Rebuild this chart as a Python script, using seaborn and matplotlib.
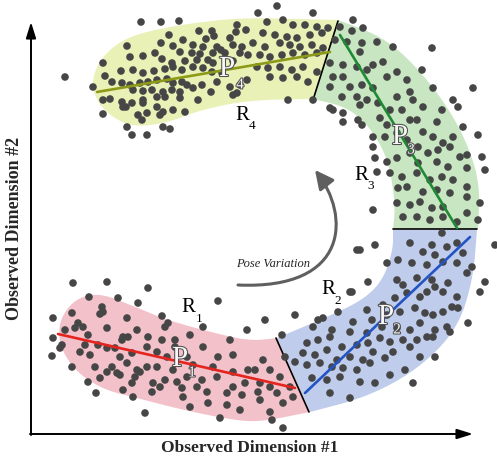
import numpy as np
import seaborn as sns
import matplotlib.pyplot as plt
import matplotlib.patheffects as pe
from matplotlib.path import Path
from matplotlib.patches import FancyArrowPatch

### --- data (pixel coordinates of the drawing) --- ###
dots_top_left = [
    (141,22),(161,22),(179,21),(237,25),(246,30),(236,32),(199,31),(212,31),(169,35),(214,36),(206,39),(127,46),
    (161,43),(173,46),(183,40),(193,45),(203,47),(217,47),(221,50),(230,38),(233,45),(242,47),(155,53),(143,56),
    (130,57),(180,52),(192,53),(200,54),(213,53),(225,53),(240,53),(103,63),(162,59),(172,63),(185,61),(197,60),
    (208,60),(213,63),(233,61),(248,55),(65,77),(105,76),(121,71),(133,70),(143,73),(154,71),(165,69),(173,67),
    (182,70),(193,67),(203,68),(212,72),(222,73),(247,80),(93,87),(112,82),(122,83),(130,85),(140,83),(148,82),
    (157,80),(167,79),(173,83),(182,82),(187,85),(193,88),(202,85),(217,82),(230,87),(240,85),(133,90),(143,91),
    (152,90),(163,92),(172,90),(180,92),(211,92),(103,100),(110,99),(122,102),(132,103),(143,100),(157,97),
    (165,97),(180,98),(198,100),(233,95),(237,93),(123,107),(126,107),(143,103),(157,107),(173,110),(163,112),
    (103,114),(138,115),(147,113),(160,115),(185,112),(142,120),(127,127),(163,127),(170,129),(132,135),(147,135),
]
dots_top_right = [
    (277,6),(258,13),(313,13),(353,20),(432,48),(267,22),(283,20),(293,25),(305,25),(317,27),(328,28),(340,27),
    (352,31),(363,28),(377,42),(263,33),(275,35),(287,37),(297,38),(310,35),(322,33),(335,40),(347,42),(362,43),
    (393,47),(253,43),(265,47),(280,43),(290,45),(300,47),(312,45),(323,48),(360,52),(373,65),(383,62),(397,72),
    (407,80),(422,70),(260,55),(270,57),(282,55),(293,53),(305,55),(317,53),(330,63),(343,65),(357,67),(367,70),
    (387,77),(410,92),(433,88),(453,100),(473,88),(257,67),(268,68),(280,67),(292,70),(303,67),(317,72),(333,77),
    (343,77),(350,87),(362,85),(373,88),(397,97),(413,100),(423,107),(442,110),(458,107),(270,77),(283,78),
    (297,77),(308,82),(330,87),(342,97),(357,97),(367,100),(378,103),(390,110),(402,110),(410,120),(437,122),
    (463,127),(288,100),(313,100),(330,108),(333,110),(343,113),(360,105),(358,120),(380,118),(387,125),(397,133),
    (417,120),(423,132),(433,137),(443,143),(453,137),(478,135),(343,122),(362,125),(373,137),(385,137),(407,140),
    (418,147),(428,153),(438,150),(450,147),(460,157),(467,155),(373,147),(375,158),(387,162),(397,158),(410,153),
    (418,163),(437,162),(448,167),(467,168),(482,157),(377,172),(390,173),(402,177),(417,173),(430,180),(442,177),
    (453,180),(467,187),(485,170),(398,188),(407,187),(423,192),(437,190),(450,193),(467,197),(480,203),(373,210),
    (397,203),(410,205),(420,202),(432,208),(443,207),(403,217),(417,217),(430,220),(443,217),(457,222),(467,213),
    (478,220),
]
dots_bottom_left = [
    (73,283),(107,282),(148,288),(218,301),(89,297),(118,298),(138,303),(102,307),(103,312),(100,314),(53,318),
    (72,313),(78,323),(83,327),(127,318),(162,316),(165,327),(203,327),(168,323),(65,330),(75,328),(88,335),
    (107,328),(122,340),(123,337),(128,337),(137,330),(148,337),(162,340),(175,340),(175,347),(190,335),(203,347),
    (230,340),(247,330),(53,338),(62,345),(60,348),(85,345),(98,345),(107,348),(115,348),(120,357),(132,353),
    (147,347),(157,352),(167,357),(187,357),(218,357),(233,355),(52,356),(72,367),(80,352),(90,355),(95,367),
    (107,372),(112,367),(117,373),(127,363),(137,370),(140,372),(135,377),(147,367),(157,367),(173,370),(193,365),
    (213,367),(233,372),(248,370),(88,382),(100,378),(120,375),(132,383),(153,383),(160,387),(165,380),(177,382),
    (187,377),(202,380),(217,377),(233,387),(245,383),(96,393),(123,390),(133,397),(152,392),(182,388),(197,387),
    (207,392),(227,393),(242,395),(145,413),(183,397),(190,407),(208,403),(227,405),(240,410),(220,418),
]
dots_bottom_right = [
    (442,233),(410,243),(432,245),(360,250),(375,245),(447,247),(457,243),(495,245),(423,252),(435,255),(463,253),
    (387,263),(398,260),(412,263),(427,265),(443,262),(457,263),(472,267),(368,282),(350,292),(397,280),(403,285),
    (417,278),(432,280),(435,287),(448,283),(467,273),(485,282),(480,292),(338,312),(323,318),(367,310),(383,305),
    (395,298),(407,293),(420,297),(427,292),(443,292),(457,297),(265,320),(295,315),(318,320),(353,322),(372,320),
    (387,315),(400,312),(415,308),(425,313),(433,315),(443,312),(452,307),(458,308),(468,323),(282,335),(313,327),
    (332,330),(350,332),(367,333),(382,327),(397,328),(410,330),(420,323),(427,337),(435,330),(447,327),(307,343),
    (318,340),(330,337),(342,347),(357,345),(368,343),(380,338),(390,342),(403,340),(417,340),(433,337),(450,332),
    (303,353),(315,355),(327,350),(337,360),(350,357),(363,360),(373,352),(385,358),(393,352),(410,347),(420,357),
    (263,360),(285,357),(295,362),(307,365),(320,363),(332,367),(343,368),(357,370),(370,363),(390,375),(405,370),
    (255,370),(270,370),(280,377),(312,378),(327,380),(340,377),(360,382),(375,383),(413,383),(435,357),(260,383),
    (270,387),(290,387),(258,392),(277,393),(293,397),(330,393),(350,398),(260,400),(283,403),(270,412),(283,428),
    (272,420),(357,250),(352,292),
]

# principal directions of each region (start, end)
p_lines = {
    "P1": [(58, 334), (295, 388)],
    "P2": [(305, 393), (470, 237)],
    "P3": [(340, 35), (457, 228)],
    "P4": [(97, 92), (330, 52)],
}
p_colors = {"P1": "#e3241f", "P2": "#2454c4", "P3": "#1f8a35", "P4": "#8d9a18"}

# region outlines: open edge chains, the straight cuts close them
regions = {
    "R4": [[(338,20),(300,19),(250,18),(217,20),(167,27),(127,37),(103,55),(91,80),(97,102),(112,117),
            (133,127),(167,123),(200,110),(250,100),(313,99)]],
    "R3": [[(338,20),(383,37),(417,67),(450,110),(470,150),(480,187),(478,229)],
           [(393,229),(395,210),(393,187),(387,157),(370,127),(347,107),(313,99)]],
    "R2": [[(477,230),(473,280),(457,330),(417,370),(367,397),(310,412)],
           [(277,338),(327,317),(363,300),(383,280),(393,250),(393,230)]],
    "R1": [[(277,338),(250,341),(210,332),(167,320),(133,306),(100,293),(77,298),(62,315),(58,335),
            (64,355),(80,375),(105,390),(133,397),(183,410),(233,420),(260,422),(310,412)]],
}
region_colors = {"R1": "#f2c1c9", "R2": "#bfcceb", "R3": "#c8e6c2", "R4": "#e9f1b7"}
cuts = [[(313, 100), (338, 21)], [(393, 229), (477, 229)], [(276, 338), (309, 412)]]

def smooth(pts, n=3):
    pts = np.asarray(pts, float)
    for _ in range(n):
        q = 0.75 * pts[:-1] + 0.25 * pts[1:]
        r = 0.25 * pts[:-1] + 0.75 * pts[1:]
        mid = np.empty((len(q) * 2, 2))
        mid[0::2] = q
        mid[1::2] = r
        pts = np.vstack([pts[0], mid, pts[-1]])
    return pts

sns.set_theme(style="white")
plt.rcParams['font.family'] = ['Liberation Serif', 'DejaVu Serif']

fig = plt.figure(figsize=(4.97, 4.62), dpi=100)
ax = fig.add_axes([0, 0, 1, 1])
ax.set_xlim(0, 497)
ax.set_ylim(462, 0)
ax.axis('off')

# regions
for name, chains in regions.items():
    poly = np.vstack([smooth(c) for c in chains])
    ax.fill(poly[:, 0], poly[:, 1], color=region_colors[name], lw=0, zorder=1)

for c in cuts:
    ax.plot([c[0][0], c[1][0]], [c[0][1], c[1][1]], color="black", lw=1.2, zorder=2)

# samples
dots = np.array(dots_top_left + dots_top_right + dots_bottom_left + dots_bottom_right)
sns.scatterplot(x=dots[:, 0], y=dots[:, 1], ax=ax, s=30, color="#464646", edgecolor="none",
                linewidth=0, zorder=3, legend=False)

for name, (a, b) in p_lines.items():
    ax.plot([a[0], b[0]], [a[1], b[1]], color=p_colors[name], lw=1.9, zorder=4)

# labels
outline = [pe.Stroke(linewidth=1.5, foreground="#505050"), pe.Normal()]
p_labels = [("4", 227, 69, 240, 85), ("3", 400, 137, 411, 150), ("2", 386, 317, 397, 330), ("1", 180, 359, 192, 373)]
for sub, x, y, sx, sy in p_labels:
    ax.text(x, y, "P", fontsize=21, color="#f7f7f7", ha="center", va="center", path_effects=outline, zorder=6)
    ax.text(sx, sy, sub, fontsize=11, color="#f7f7f7", ha="center", va="center", path_effects=outline, zorder=6)

r_labels = [("4", 242, 116, 252, 126), ("3", 361, 175, 371, 186), ("2", 328, 290, 338, 301), ("1", 188, 308, 199, 319)]
for sub, x, y, sx, sy in r_labels:
    ax.text(x, y, "R", fontsize=15, color="black", ha="center", va="center", zorder=6)
    ax.text(sx, sy, sub, fontsize=9.5, color="black", ha="center", va="center", zorder=6)

ax.text(273, 264, "Pose Variation", fontsize=9, style="italic", ha="center", va="center", zorder=6)

# pose variation arrow
arc = Path([(238, 285), (350, 290), (350, 215), (315, 170)],
           [Path.MOVETO, Path.CURVE4, Path.CURVE4, Path.CURVE4])
ax.add_patch(FancyArrowPatch(path=arc, arrowstyle="-|>,head_length=0.7,head_width=0.35",
                             mutation_scale=16, color="#5f5f5f", lw=2.2, zorder=5))

# axes arrows
ax.annotate("", xy=(31, 22), xytext=(31, 435),
            arrowprops=dict(arrowstyle="-|>,head_length=0.8,head_width=0.25", color="black", lw=1.4,
                            mutation_scale=12, shrinkA=0, shrinkB=0))
ax.annotate("", xy=(473, 434), xytext=(30, 434),
            arrowprops=dict(arrowstyle="-|>,head_length=0.8,head_width=0.25", color="black", lw=1.4,
                            mutation_scale=12, shrinkA=0, shrinkB=0))
ax.text(250, 448, "Observed Dimension #1", fontsize=12.5, fontweight="bold", ha="center", va="center")
ax.text(15, 228, "Observed Dimension #2", fontsize=13, fontweight="bold", ha="center", va="center",
        rotation=90)

fig.savefig("out.png", dpi=100)
